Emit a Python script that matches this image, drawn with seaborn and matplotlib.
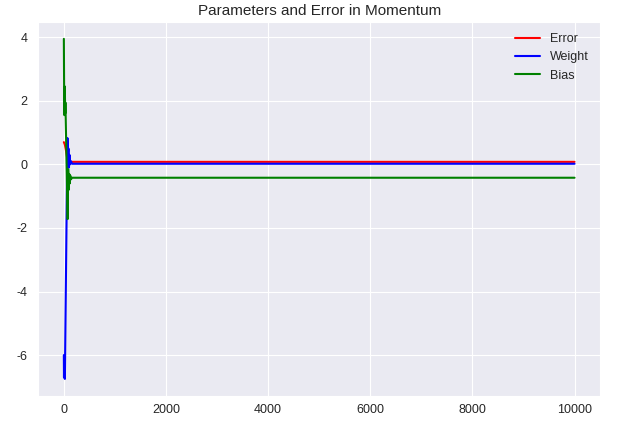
import matplotlib
matplotlib.use("Agg")
import matplotlib.pyplot as plt
import seaborn as sns
import pandas as pd

# Values (iteration, value)
error_x = [0, 5, 10, 15, 20, 40, 60, 80, 100, 150, 200, 10000]
error_y = [0.70, 0.68, 0.66, 0.64, 0.62, 0.45, 0.25, 0.13, 0.09, 0.08, 0.08, 0.08]

weight_x = [0, 3, 6, 10, 15, 20, 70, 80, 90, 100, 110, 120, 140, 160, 200, 10000]
weight_y = [-6.0, -6.7, -6.1, -6.7, -6.2, -6.75, 0.83, 0.2, 0.5, -0.1, 0.3, 0.0, 0.1, 0.02, 0.02, 0.02]

bias_x = [0, 5, 10, 15, 20, 25, 30, 75, 85, 95, 105, 115, 125, 140, 160, 200, 10000]
bias_y = [3.95, 2.5, 1.55, 2.0, 2.45, 1.6, 1.95, -1.72, -0.15, -0.8, -0.3, -0.6, -0.35, -0.47, -0.42, -0.42, -0.42]

series_names = ["Error", "Weight", "Bias"]
colors = {"Error": "red", "Weight": "blue", "Bias": "green"}

frames = []
for name, xs, ys in [("Error", error_x, error_y), ("Weight", weight_x, weight_y), ("Bias", bias_x, bias_y)]:
    frames.append(pd.DataFrame({"iter": xs, "value": ys, "series": name}))
df = pd.concat(frames, ignore_index=True)

sns.set_style("darkgrid")
plt.rcParams["font.family"] = ["Liberation Sans", "DejaVu Sans"]
plt.rcParams["axes.unicode_minus"] = False

fig = plt.figure(figsize=(6.18, 4.37), dpi=100)
ax = fig.add_axes([0.062, 0.094, 0.909, 0.856])

sns.lineplot(data=df, x="iter", y="value", hue="series", hue_order=series_names,
             palette=colors, estimator=None, sort=False, linewidth=1.5, ax=ax)

ax.set_xlabel("")
ax.set_ylabel("")
ax.set_title("Parameters and Error in Momentum", fontsize=11, pad=5)
ax.tick_params(axis="y", labelsize=9, length=0, pad=8)
ax.tick_params(axis="x", labelsize=9, length=0, pad=6)
handles, labels = ax.get_legend_handles_labels()
ax.legend(handles, labels, loc="upper right", frameon=False, fontsize=9)

fig.savefig("out.png", dpi=100)
